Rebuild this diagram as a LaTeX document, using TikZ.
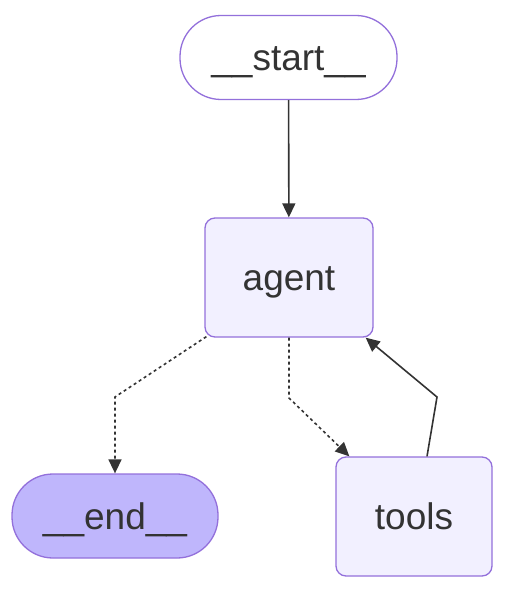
\documentclass[tikz,border=0pt]{standalone}
\usepackage{fontspec}
\setmainfont{Liberation Sans}
\usetikzlibrary{arrows.meta}
\definecolor{nodefill}{HTML}{F2F0FF}
\definecolor{lastfill}{HTML}{BFB6FC}
\definecolor{nodeline}{HTML}{9370DB}
\definecolor{edgeline}{HTML}{333333}

\begin{document}
\begin{tikzpicture}[x=1pt, y=-1pt,
    graph node/.style = {draw=nodeline, line width=1.3pt, fill=nodefill, text=edgeline, font=\fontsize{37}{40}\selectfont, inner sep=0pt, text height=30pt, text depth=4pt},
    box/.style = {graph node, rounded corners=10pt, minimum width=168pt, minimum height=119pt},
    pill/.style = {graph node, rounded corners=41pt, minimum width=210pt, minimum height=84pt},
    edge/.style = {draw=edgeline, line width=1.6pt, -{Triangle[length=14pt, width=13pt]}},
    cond edge/.style = {edge, dash pattern=on 3pt off 3pt}]
    \useasboundingbox (0,0) rectangle (506,594);

    \node[pill, fill=white, minimum width=217pt, minimum height=84pt] (start) at (288.5,57.5) {\_\_start\_\_};
    \node[box] (agent) at (289,277.5) {agent};
    \node[pill, fill=lastfill, minimum width=206pt] (end) at (115,516) {\_\_end\_\_};
    \node[box, minimum width=156pt] (tools) at (414,516.5) {tools};

    \coordinate (end bend) at (115,397);
    \coordinate (tools bend) at (289,398);
    \coordinate (back bend) at (437,397);

    \draw[edge] (start) -- (agent);
    \draw[cond edge] ([xshift=2pt, yshift=1pt]agent.south west) -- (end bend) -- (end.north);
    \draw[cond edge] (agent.south) -- (tools bend) -- ([xshift=14pt]tools.north west);
    \draw[edge] ([xshift=13pt]tools.north) -- (back bend) -- ([xshift=-8pt]agent.south east);
\end{tikzpicture}
\end{document}
